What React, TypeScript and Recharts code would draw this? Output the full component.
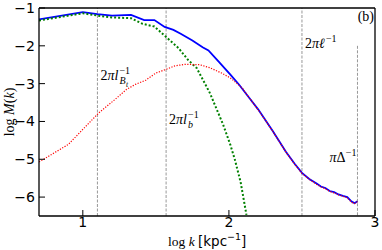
import React from "react";
import { LineChart, Line, XAxis, YAxis, ReferenceLine } from "recharts";

// log k values and log M(k)
const blueK = [0.7, 1.0, 1.1, 1.2, 1.33, 1.42, 1.49, 1.56, 1.62, 1.67, 1.75, 1.82, 1.86, 1.93, 2.01, 2.07, 2.14, 2.2, 2.3, 2.39, 2.45, 2.5, 2.55, 2.6, 2.63, 2.66, 2.69, 2.72, 2.75, 2.78, 2.81, 2.84, 2.86, 2.88];
const blueM = [-1.3, -1.11, -1.16, -1.2, -1.18, -1.32, -1.32, -1.5, -1.58, -1.68, -1.86, -2.04, -2.12, -2.42, -2.76, -3.03, -3.38, -3.68, -4.25, -4.8, -5.12, -5.36, -5.52, -5.64, -5.72, -5.76, -5.84, -5.87, -5.93, -5.97, -6.0, -6.12, -6.16, -6.11];

const greenK = [0.7, 1.0, 1.1, 1.2, 1.33, 1.41, 1.49, 1.565, 1.655, 1.72, 1.78, 1.87, 1.96, 2.01, 2.04, 2.08, 2.12];
const greenM = [-1.33, -1.14, -1.2, -1.25, -1.27, -1.42, -1.49, -1.75, -2.06, -2.37, -2.59, -3.25, -4.08, -4.62, -5.0, -5.6, -6.47];

const redK = [0.7, 0.9, 1.11, 1.22, 1.3, 1.36, 1.43, 1.5, 1.565, 1.63, 1.7, 1.8, 1.87, 1.95, 2.01, 2.09, 2.14, 2.2, 2.3, 2.39, 2.45, 2.5, 2.55, 2.6, 2.63, 2.66, 2.69, 2.72, 2.75, 2.78, 2.81, 2.84, 2.86, 2.88];
const redM = [-5.07, -4.61, -3.77, -3.42, -3.15, -3.02, -2.91, -2.72, -2.63, -2.53, -2.49, -2.5, -2.58, -2.72, -2.85, -3.11, -3.38, -3.69, -4.26, -4.81, -5.13, -5.37, -5.53, -5.66, -5.73, -5.78, -5.85, -5.89, -5.94, -5.98, -6.02, -6.14, -6.17, -6.12];

// characteristic scales (vertical markers)
const kBt = 1.1;
const kLb = 1.57;
const kEll = 2.5;
const kDelta = 2.88;
const deltaTop = -2;

const xMajor = [1, 2, 3];
const xMinor = [0.8, 0.9, 1.1, 1.2, 1.3, 1.4, 1.5, 1.6, 1.7, 1.8, 1.9, 2.1, 2.2, 2.3, 2.4, 2.5, 2.6, 2.7, 2.8, 2.9];
const yMajor = [-6, -5, -4, -3, -2, -1];
const yMinor = [-6.25, -5.75, -5.5, -5.25, -4.75, -4.5, -4.25, -3.75, -3.5, -3.25, -2.75, -2.5, -2.25, -1.75, -1.5, -1.25];

const toPoints = (ks: number[], ms: number[]) => ks.map((k, i) => ({ k, m: ms[i] }));
const blueData = toPoints(blueK, blueM);
const greenData = toPoints(greenK, greenM);
const redData = toPoints(redK, redM);

const serif = "'Liberation Serif', 'DejaVu Serif', serif";
const sans = "'DejaVu Sans', sans-serif";
const fmt = (v: number) => (v < 0 ? "\u2212" + Math.abs(v) : String(v));
const refStroke = "#999";
const refDash = "3 1.5";

const LabelBt = ({ viewBox }: any) => {
  const x = viewBox.x + 3;
  const y = viewBox.y + 72;
  return (
    <g fontFamily={serif} fill="#000">
      <text x={x} y={y} fontSize={14}>2<tspan fontStyle="italic">πl</tspan></text>
      <text x={x + 19} y={y + 4} fontSize={10} fontStyle="italic">B</text>
      <text x={x + 25.5} y={y + 6.5} fontSize={7.5} fontStyle="italic">t</text>
      <text x={x + 19} y={y - 6} fontSize={10}>−1</text>
    </g>
  );
};

const LabelLb = ({ viewBox }: any) => {
  const x = viewBox.x + 3;
  const y = viewBox.y + 116;
  return (
    <g fontFamily={serif} fill="#000">
      <text x={x} y={y} fontSize={14}>2<tspan fontStyle="italic">πl</tspan></text>
      <text x={x + 19} y={y + 4} fontSize={10} fontStyle="italic">b</text>
      <text x={x + 19} y={y - 6} fontSize={10}>−1</text>
    </g>
  );
};

const LabelEll = ({ viewBox }: any) => {
  const x = viewBox.x + 3;
  const y = viewBox.y + 40;
  return (
    <g fontFamily={serif} fill="#000">
      <text x={x} y={y} fontSize={14}>2<tspan fontStyle="italic">πℓ</tspan></text>
      <text x={x + 21} y={y - 6} fontSize={10}>−1</text>
    </g>
  );
};

const LabelDelta = ({ viewBox }: any) => {
  const x = viewBox.x - 1;
  const y = viewBox.y + 116;
  return (
    <g fontFamily={serif} fill="#000">
      <text x={x - 11} y={y} fontSize={14} textAnchor="end"><tspan fontStyle="italic">π</tspan>Δ</text>
      <text x={x} y={y - 6} fontSize={10} textAnchor="end">−1</text>
    </g>
  );
};

export default function App() {
  const tickStyle = { fontFamily: sans, fontSize: 14, fill: "#000" };
  const axisLine = { stroke: "#000", strokeWidth: 1.3 };
  const tickLine = { stroke: "#000", strokeWidth: 1 };
  return (
    <div style={{ position: "absolute", left: 0, top: 0, width: 382, height: 250, background: "#fff" }}>
      <LineChart width={382} height={250} margin={{ top: 6, right: 5, bottom: 32, left: 37 }}>
        <XAxis xAxisId="x" type="number" dataKey="k" domain={[0.7, 3]} allowDataOverflow orientation="bottom" height={1}
          ticks={xMajor} interval={0} tickSize={-6} tickMargin={7} tick={tickStyle} tickFormatter={fmt} tickLine={tickLine} axisLine={axisLine} />
        <XAxis xAxisId="xm" type="number" dataKey="k" domain={[0.7, 3]} allowDataOverflow orientation="bottom" height={1}
          ticks={xMinor} interval={0} tick={false} tickSize={-4} tickLine={tickLine} axisLine={false} />
        <XAxis xAxisId="xt" type="number" dataKey="k" domain={[0.7, 3]} allowDataOverflow orientation="top" height={1}
          ticks={xMajor} interval={0} tick={false} tickSize={-6} tickLine={tickLine} axisLine={axisLine} />
        <XAxis xAxisId="xtm" type="number" dataKey="k" domain={[0.7, 3]} allowDataOverflow orientation="top" height={1}
          ticks={xMinor} interval={0} tick={false} tickSize={-4} tickLine={tickLine} axisLine={false} />
        <YAxis yAxisId="y" type="number" domain={[-6.5, -1]} allowDataOverflow orientation="left" width={1}
          ticks={yMajor} interval={0} tickSize={-6} tickMargin={10} tick={tickStyle} tickFormatter={fmt} tickLine={tickLine} axisLine={axisLine} />
        <YAxis yAxisId="ym" type="number" domain={[-6.5, -1]} allowDataOverflow orientation="left" width={1}
          ticks={yMinor} interval={0} tickSize={-4} tick={false} tickLine={tickLine} axisLine={false} />
        <YAxis yAxisId="yr" type="number" domain={[-6.5, -1]} allowDataOverflow orientation="right" width={1}
          ticks={yMajor} interval={0} tickSize={-6} tick={false} tickLine={tickLine} axisLine={axisLine} />
        <YAxis yAxisId="yrm" type="number" domain={[-6.5, -1]} allowDataOverflow orientation="right" width={1}
          ticks={yMinor} interval={0} tickSize={-4} tick={false} tickLine={tickLine} axisLine={false} />

        <ReferenceLine xAxisId="x" yAxisId="y" x={kBt} stroke={refStroke} strokeDasharray={refDash} label={<LabelBt />} />
        <ReferenceLine xAxisId="x" yAxisId="y" x={kLb} stroke={refStroke} strokeDasharray={refDash} label={<LabelLb />} />
        <ReferenceLine xAxisId="x" yAxisId="y" x={kEll} stroke={refStroke} strokeDasharray={refDash} label={<LabelEll />} />
        <ReferenceLine xAxisId="x" yAxisId="y" segment={[{ x: kDelta, y: deltaTop }, { x: kDelta, y: -6.5 }]}
          stroke={refStroke} strokeDasharray={refDash} label={<LabelDelta />} />

        <Line xAxisId="x" yAxisId="y" data={blueData} dataKey="m" type="linear" stroke="#0000ff" strokeWidth={1.8} dot={false} isAnimationActive={false} />
        <Line xAxisId="x" yAxisId="y" data={greenData} dataKey="m" type="linear" stroke="#008000" strokeWidth={2} strokeDasharray="2 2" dot={false} isAnimationActive={false} />
        <Line xAxisId="x" yAxisId="y" data={redData} dataKey="m" type="linear" stroke="#ff0000" strokeWidth={1.2} strokeDasharray="1.2 1.5" dot={false} isAnimationActive={false} />

        <text x={374} y={21} textAnchor="end" fontFamily={serif} fontSize={14}>(b)</text>
        <text x={14} y={112} transform="rotate(-90 14 112)" textAnchor="middle" fontFamily={serif} fontSize={14}>
          log <tspan fontStyle="italic">M</tspan>(<tspan fontStyle="italic">k</tspan>)
        </text>
        <text x={168} y={246} fontFamily={serif} fontSize={13.5}>
          log <tspan fontStyle="italic">k</tspan> <tspan fontFamily={sans}>[kpc</tspan><tspan fontFamily={sans} fontSize={9.5} dy={-6}>−1</tspan><tspan fontFamily={sans} dy={6}>]</tspan>
        </text>
      </LineChart>
    </div>
  );
}
